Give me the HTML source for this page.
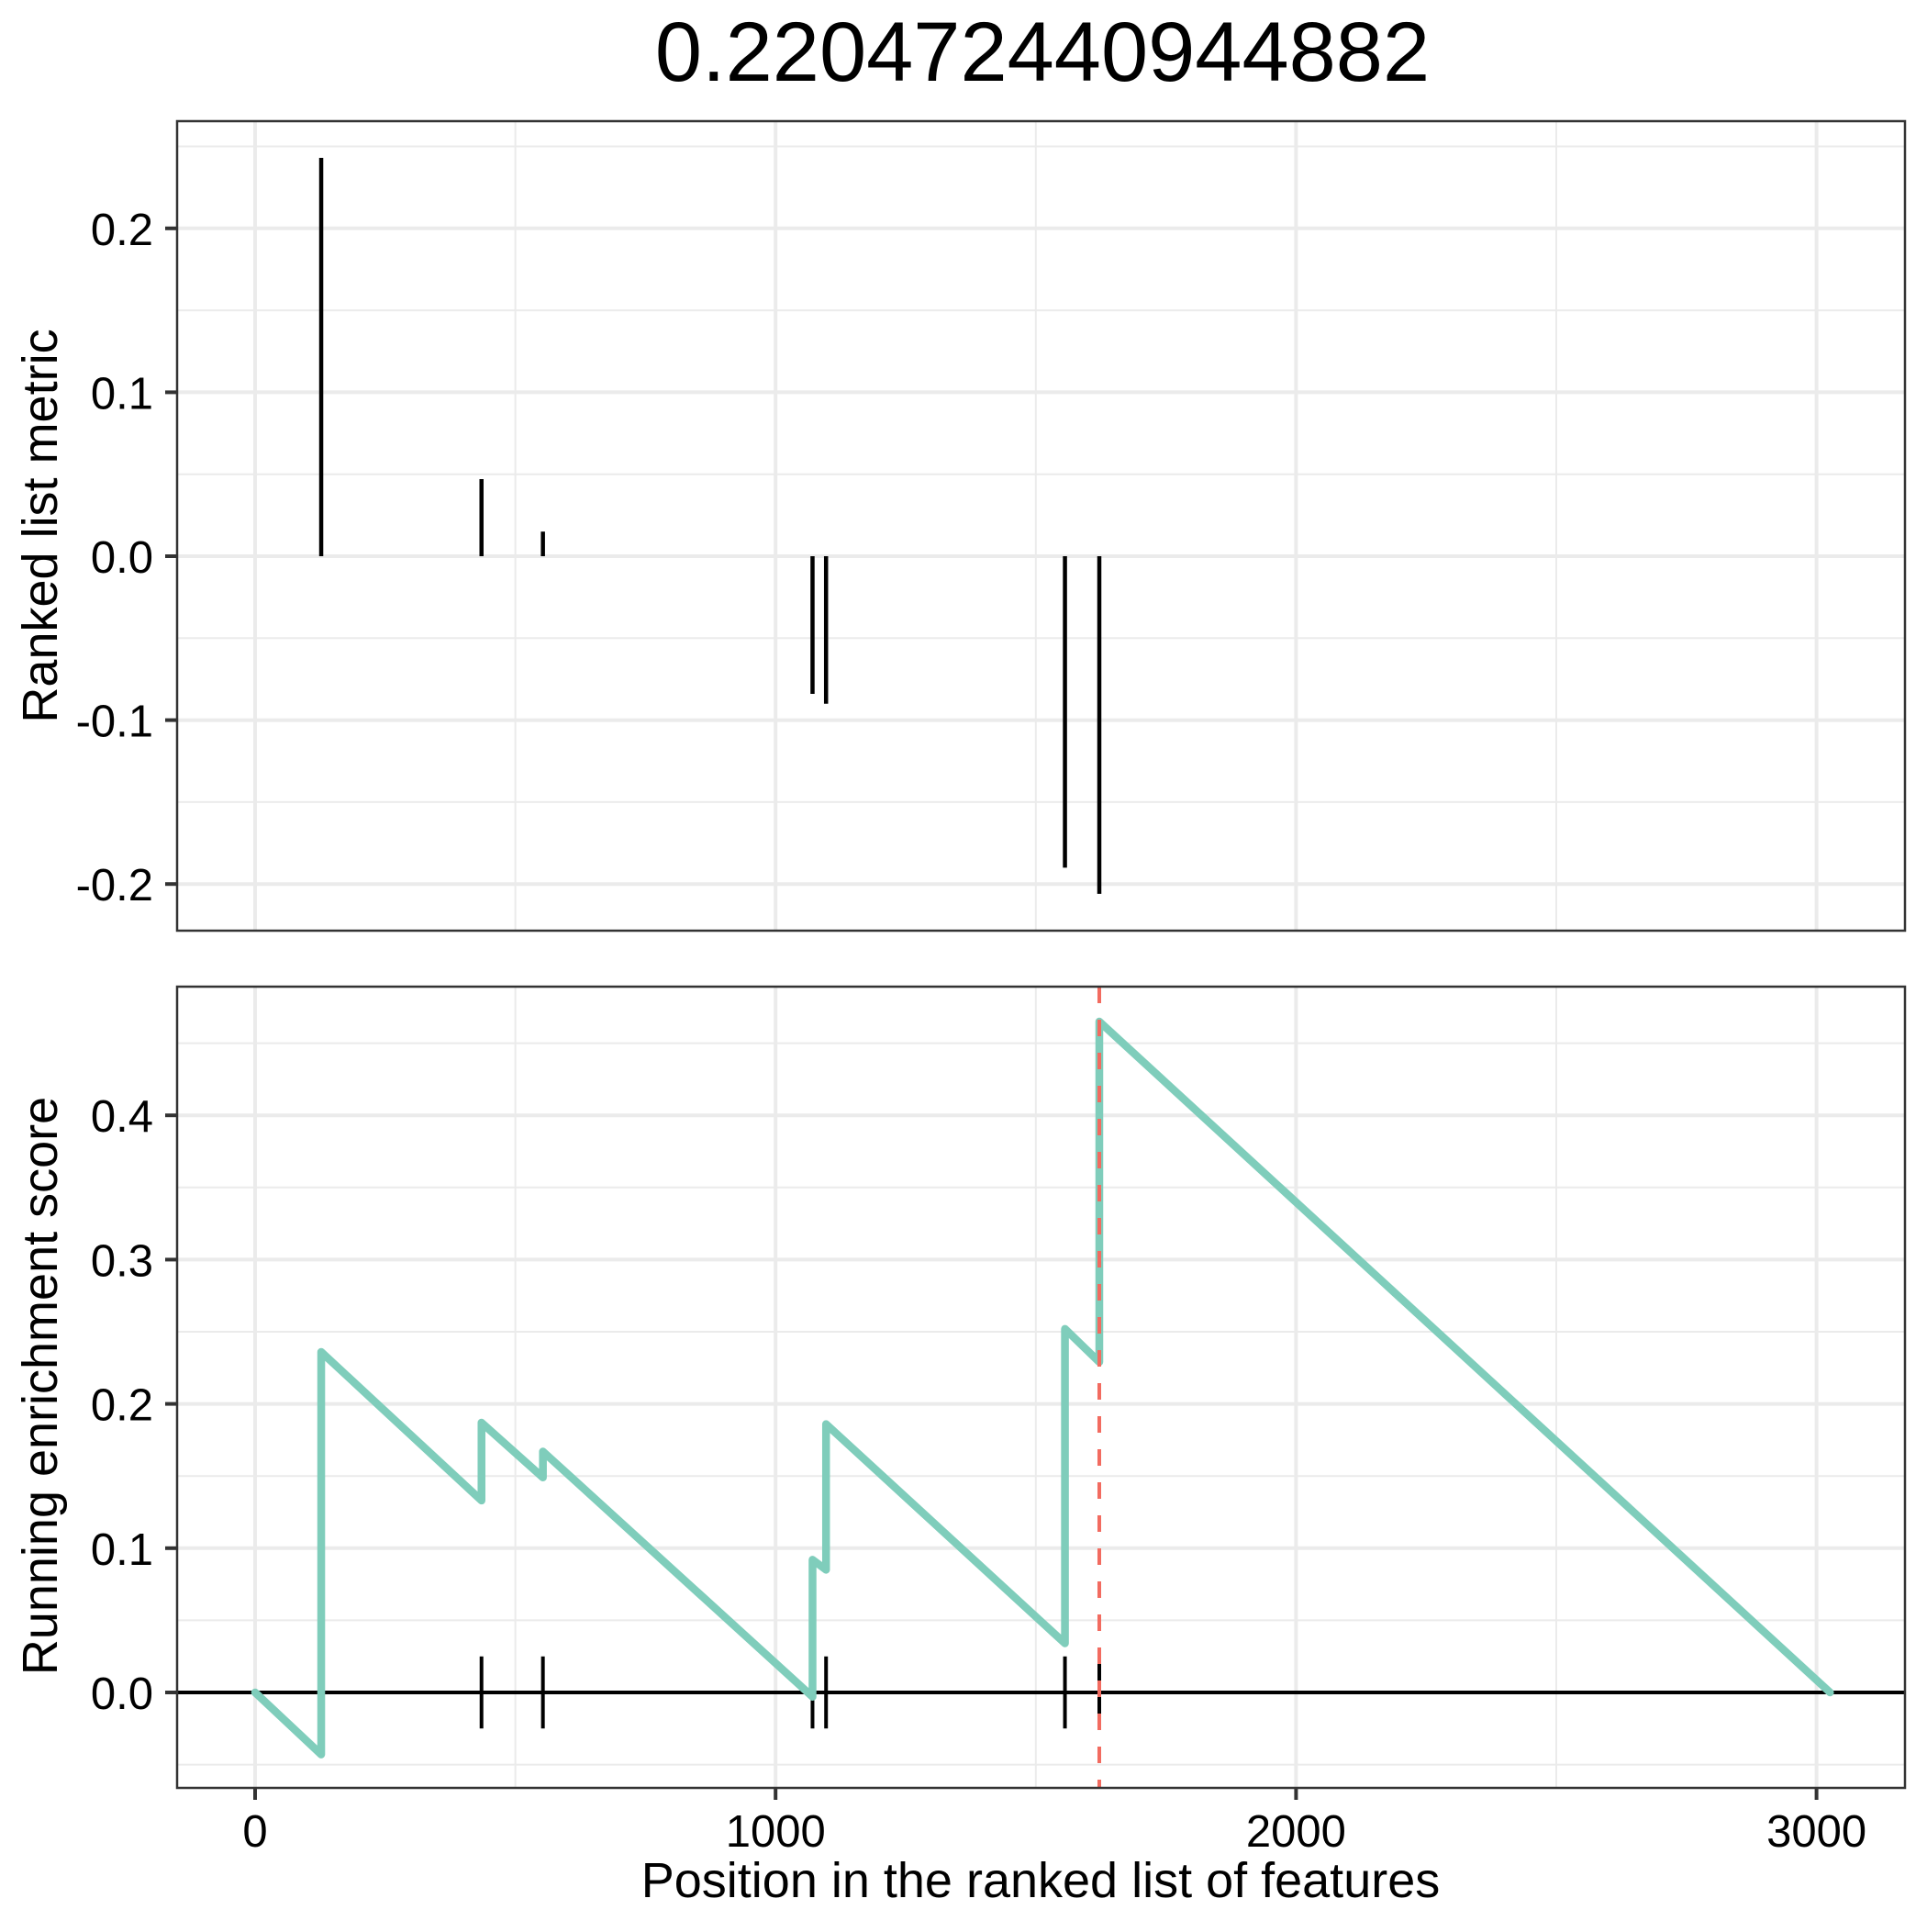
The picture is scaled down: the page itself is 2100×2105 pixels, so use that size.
<!DOCTYPE html>
<html><head><meta charset="utf-8"><style>
html,body{margin:0;padding:0;background:#fff;}
svg text{font-family:"Liberation Sans",Arial,sans-serif;}
</style></head><body>
<svg id="chart" xmlns="http://www.w3.org/2000/svg" width="2100" height="2100" viewBox="0 0 2100 2100">
<rect width="2100" height="2100" fill="#fff"/>
<text x="1136" y="88" font-size="92" text-anchor="middle">0.220472440944882</text>
<g id="top"></g>
<g id="bottom"></g>
<text x="1134" y="2067" font-size="54" text-anchor="middle">Position in the ranked list of features</text>
<text transform="translate(62,573) rotate(-90)" font-size="54" text-anchor="middle">Ranked list metric</text>
<text transform="translate(62,1510) rotate(-90)" font-size="54" text-anchor="middle">Running enrichment score</text>
</svg>
<script>
const genePositions = [127, 435, 553, 1071, 1097, 1556, 1622];
const metricValues = [0.243, 0.047, 0.015, -0.084, -0.090, -0.190, -0.206];
const esBefore = [-0.043, 0.133, 0.149, -0.003, 0.085, 0.034, 0.229];
const esAfter = [0.236, 0.187, 0.167, 0.092, 0.186, 0.252, 0.465];
const totalLength = 3026;
const peakPosition = 1622;
const xTicks = [0, 1000, 2000, 3000];
const xTickLabels = ["0", "1000", "2000", "3000"];
const topYTicks = [-0.2, -0.1, 0, 0.1, 0.2];
const topYTickLabels = ["-0.2", "-0.1", "0.0", "0.1", "0.2"];
const botYTicks = [0, 0.1, 0.2, 0.3, 0.4];
const botYTickLabels = ["0.0", "0.1", "0.2", "0.3", "0.4"];

const NS = "http://www.w3.org/2000/svg";
const L = 193, R = 2076;
const xs = v => 278 + v * 0.5672;
const yTop = v => 606 - v * 1786;
const yBot = v => 1844 - v * 1572;
const TOP = {t:132, b:1014}, BOT = {t:1075, b:1948};

function mk(tag, attrs, parent) {
  const e = document.createElementNS(NS, tag);
  for (const k in attrs) e.setAttribute(k, attrs[k]);
  parent.appendChild(e);
  return e;
}

function panel(g, box, ys, yTicks, yLabels, minorRange, name) {
  const bg = mk('rect', {x:L, y:box.t, width:R-L, height:box.b-box.t, fill:'#fff'}, g);
  
  
  for (let v = minorRange[0]; v <= minorRange[1] + 1e-9; v += 0.1) {
    const y = ys(v);
    if (y > box.t && y < box.b) {
      const ln = mk('line', {x1:L, x2:R, y1:y, y2:y, stroke:'#ebebeb', 'stroke-width':2}, g);
      
      
    }
  }
  for (let v = -500; v <= 3500; v += 1000) {
    const x = xs(v);
    if (x > L && x < R) {
      const ln = mk('line', {x1:x, x2:x, y1:box.t, y2:box.b, stroke:'#ebebeb', 'stroke-width':2}, g);
      
      
    }
  }
  yTicks.forEach((v, i) => {
    const y = ys(v);
    const ln = mk('line', {x1:L, x2:R, y1:y, y2:y, stroke:'#ebebeb', 'stroke-width':4}, g);
    
    
    const tk = mk('line', {x1:L-13, x2:L, y1:y, y2:y, stroke:'#333', 'stroke-width':4}, g);
    
    
    const t = mk('text', {x:167, y:y+18, 'font-size':49, 'text-anchor':'end', fill:'#000'}, g);
    
    
    t.textContent = yLabels[i];
  });
  xTicks.forEach(v => {
    const x = xs(v);
    const ln = mk('line', {x1:x, x2:x, y1:box.t, y2:box.b, stroke:'#ebebeb', 'stroke-width':4}, g);
    
    
  });
}

const gt = document.getElementById('top');
panel(gt, TOP, yTop, topYTicks, topYTickLabels, [-0.25, 0.25], 'top');
genePositions.forEach((p, i) => {
  const b = mk('line', {x1:xs(p), x2:xs(p), y1:yTop(0), y2:yTop(metricValues[i]), stroke:'#000', 'stroke-width':4.5}, gt);
  
  
});
const bt = mk('rect', {x:L, y:TOP.t, width:R-L, height:TOP.b-TOP.t, fill:'none', stroke:'#333', 'stroke-width':2.5}, gt);



const gb = document.getElementById('bottom');
panel(gb, BOT, yBot, botYTicks, botYTickLabels, [-0.05, 0.45], 'bottom');
const zl = mk('line', {x1:L, x2:R, y1:yBot(0), y2:yBot(0), stroke:'#000', 'stroke-width':4}, gb);


genePositions.forEach(p => {
  const t = mk('line', {x1:xs(p), x2:xs(p), y1:yBot(0.025), y2:yBot(-0.025), stroke:'#000', 'stroke-width':4}, gb);
  
  
});
let d = 'M' + xs(0) + ',' + yBot(0);
genePositions.forEach((p, i) => {
  d += ' L' + xs(p) + ',' + yBot(esBefore[i]) + ' L' + xs(p) + ',' + yBot(esAfter[i]);
});
d += ' L' + xs(totalLength) + ',' + yBot(0);
const es = mk('path', {d:d, fill:'none', stroke:'#7fcdbb', 'stroke-width':8.5, 'stroke-linejoin':'round', 'stroke-linecap':'round'}, gb);


const pk = mk('line', {x1:xs(peakPosition), x2:xs(peakPosition), y1:BOT.t, y2:BOT.b, stroke:'#f26b60', 'stroke-width':4, 'stroke-dasharray':'18,18'}, gb);


const bb = mk('rect', {x:L, y:BOT.t, width:R-L, height:BOT.b-BOT.t, fill:'none', stroke:'#333', 'stroke-width':2.5}, gb);


xTicks.forEach((v, i) => {
  const x = xs(v);
  const tk = mk('line', {x1:x, x2:x, y1:BOT.b, y2:BOT.b+13, stroke:'#333', 'stroke-width':4}, gb);
  
  
  const t = mk('text', {x:x, y:2012, 'font-size':49, 'text-anchor':'middle', fill:'#000'}, gb);
  
  
  t.textContent = xTickLabels[i];
});
</script>
</body></html>
